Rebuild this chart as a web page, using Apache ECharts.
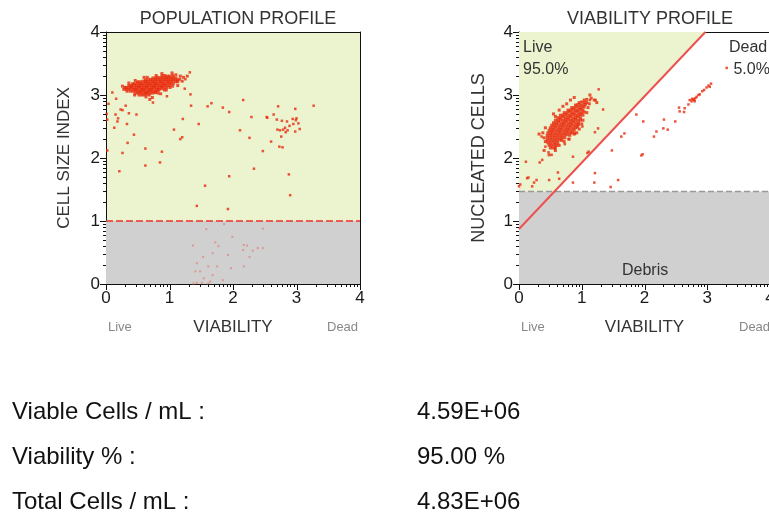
<!DOCTYPE html>
<html>
<head>
<meta charset="utf-8">
<script src="https://cdn.jsdelivr.net/npm/echarts@6/dist/echarts.min.js"></script>
<style>
html,body{margin:0;padding:0;background:#fff;}
#chart{width:769px;height:512px;}
</style>
</head>
<body>
<div id="chart"></div>
<script>
// ---------- data ----------
const tickLabels = [0, 1, 2, 3, 4];
const minorFrac = [0.301, 0.477, 0.602, 0.699, 0.778, 0.845, 0.903, 0.954];

// POPULATION PROFILE
const popCore = [
[0.88,3.30],[0.92,3.31],[0.96,3.30],[1.00,3.30],[1.05,3.31],
[0.74,3.27],[0.78,3.27],[0.82,3.28],[0.86,3.27],[0.90,3.27],[0.94,3.28],[0.98,3.27],[1.02,3.27],[1.06,3.28],[1.10,3.27],
[0.62,3.24],[0.66,3.24],[0.70,3.25],[0.74,3.24],[0.78,3.24],[0.82,3.25],[0.86,3.24],[0.90,3.24],[0.94,3.25],[0.98,3.24],[1.02,3.24],[1.06,3.25],[1.10,3.24],[1.13,3.24],
[0.50,3.21],[0.54,3.21],[0.58,3.22],[0.62,3.21],[0.66,3.21],[0.70,3.22],[0.74,3.21],[0.78,3.21],[0.82,3.22],[0.86,3.21],[0.90,3.21],[0.94,3.22],[0.98,3.21],[1.02,3.21],[1.06,3.22],[1.10,3.21],[1.13,3.21],
[0.42,3.18],[0.46,3.18],[0.50,3.19],[0.54,3.18],[0.58,3.18],[0.62,3.19],[0.66,3.18],[0.70,3.18],[0.74,3.19],[0.78,3.18],[0.82,3.18],[0.86,3.19],[0.90,3.18],[0.94,3.18],[0.98,3.19],[1.02,3.18],[1.06,3.18],
[0.36,3.15],[0.40,3.15],[0.44,3.16],[0.48,3.15],[0.52,3.15],[0.56,3.16],[0.60,3.15],[0.64,3.15],[0.68,3.16],[0.72,3.15],[0.76,3.15],[0.80,3.16],[0.84,3.15],[0.88,3.15],[0.92,3.16],[0.96,3.15],[1.00,3.15],
[0.32,3.12],[0.36,3.12],[0.40,3.13],[0.44,3.12],[0.48,3.12],[0.52,3.13],[0.56,3.12],[0.60,3.12],[0.64,3.13],[0.68,3.12],[0.72,3.12],[0.76,3.13],[0.80,3.12],[0.84,3.12],[0.88,3.13],[0.92,3.12],[0.96,3.12],
[0.32,3.09],[0.36,3.09],[0.40,3.10],[0.44,3.09],[0.48,3.09],[0.52,3.10],[0.56,3.09],[0.60,3.09],[0.64,3.10],[0.68,3.09],[0.72,3.09],[0.76,3.10],[0.80,3.09],[0.84,3.09],[0.88,3.10],
[0.38,3.06],[0.42,3.06],[0.46,3.07],[0.50,3.06],[0.54,3.06],[0.58,3.07],[0.62,3.06],[0.66,3.06],[0.70,3.07],[0.74,3.06],[0.78,3.06],[0.82,3.07],
[0.46,3.03],[0.50,3.03],[0.54,3.04],[0.58,3.03],[0.62,3.03],[0.66,3.04],[0.70,3.03],[0.74,3.03],[0.78,3.04],
[0.56,3.00],[0.60,3.00],[0.64,3.01],[0.68,3.00],
[0.30,3.12],[0.33,3.06],[0.45,3.00],[0.63,2.97],[0.69,2.93],[0.73,2.96],[0.86,3.02],[0.95,3.08],[1.16,3.25],[1.20,3.22],
[1.17,3.30],[1.13,3.15],[1.01,3.12],[0.60,3.28],[0.46,3.23],[0.79,3.31],[1.28,3.30],[1.22,3.28],[0.52,3.00],[0.82,3.03],
[0.92,3.08],[1.05,3.14],[0.36,3.19],[0.65,3.28],[0.88,3.34],[1.10,3.32],[1.04,3.35],[0.28,3.09],[0.26,3.14]
];
const popScatter = [
[0.10,3.04],[0.04,2.86],[0.16,2.94],[0.23,2.77],[0.26,2.76],[0.15,2.69],[0.19,2.63],[0.18,2.58],[0.13,2.48],[0.02,2.61],[0.01,2.70],
[0.31,2.83],[0.36,2.71],[0.48,2.69],[0.33,2.54],[0.44,2.37],[0.34,2.24],[0.26,2.08],[0.02,2.12],[0.21,1.79],[0.62,2.15],[0.62,1.88],
[0.88,2.10],[0.85,1.93],[0.74,2.88],[0.96,2.98],[1.07,2.45],[1.17,2.30],[1.20,2.33],[1.21,2.62],[1.34,2.83],[1.33,3.01],[1.32,3.36],
[1.25,3.25],[1.24,3.10],[1.46,2.54],[1.60,2.82],[1.66,2.87],[1.84,2.80],[1.94,2.73],[2.11,2.44],[2.16,2.92],[2.29,2.65],[2.26,2.32],
[2.33,1.83],[1.94,1.71],[1.56,1.56],[1.43,1.24],[1.92,1.19],[2.47,2.11],[2.60,2.26],[2.53,2.65],[2.54,2.64],[2.64,2.69],[2.71,2.82],
[3.27,2.83],[2.98,2.78],[2.69,2.61],[2.77,2.59],[2.85,2.58],[2.94,2.62],[3.00,2.63],[2.99,2.60],[2.89,2.51],[2.95,2.54],[3.03,2.55],
[2.82,2.48],[2.79,2.45],[2.86,2.44],[2.83,2.41],[2.74,2.44],[2.98,2.42],[3.05,2.46],[2.70,2.45],[2.76,2.34],[2.73,2.18],[2.78,2.17],
[2.88,1.74],[2.90,1.41]
];
const popDebris = [
[1.37,0.61],[1.43,0.33],[1.53,0.43],[1.58,0.87],[1.61,0.28],[1.48,0.20],[1.41,0.20],[1.54,0.09],[1.38,0.01],[1.43,0.02],[1.64,0.04],
[1.68,0.49],[1.72,0.66],[1.77,0.60],[1.75,0.28],[1.86,0.95],[1.84,0.06],[1.92,0.46],[1.97,0.25],[1.99,0.75],[2.17,0.62],[2.16,0.54],
[2.22,0.61],[2.17,0.28],[2.26,0.43],[2.31,0.53],[2.39,0.57],[2.47,0.57],[2.47,0.88],[1.68,0.14],[1.61,0.01],[1.51,0.02]
];
const popCutoff = [[0, 1], [4, 1]];

// VIABILITY PROFILE
const viaCore = [
[1.04,2.92],[1.08,2.93],
[0.96,2.88],[1.00,2.89],[1.04,2.88],[1.08,2.88],
[0.90,2.84],[0.94,2.85],[0.98,2.84],[1.02,2.84],[1.06,2.85],
[0.84,2.80],[0.88,2.80],[0.92,2.81],[0.96,2.80],[1.00,2.80],[1.04,2.81],
[0.78,2.76],[0.82,2.76],[0.86,2.77],[0.90,2.76],[0.94,2.76],[0.98,2.77],[1.02,2.76],
[0.72,2.72],[0.76,2.72],[0.80,2.73],[0.84,2.72],[0.88,2.72],[0.92,2.73],[0.96,2.72],[1.00,2.72],[1.04,2.73],
[0.66,2.68],[0.70,2.68],[0.74,2.69],[0.78,2.68],[0.82,2.68],[0.86,2.69],[0.90,2.68],[0.94,2.68],[0.98,2.69],[1.02,2.68],
[0.62,2.64],[0.66,2.64],[0.70,2.65],[0.74,2.64],[0.78,2.64],[0.82,2.65],[0.86,2.64],[0.90,2.64],[0.94,2.65],[0.98,2.64],
[0.58,2.60],[0.62,2.60],[0.66,2.61],[0.70,2.60],[0.74,2.60],[0.78,2.61],[0.82,2.60],[0.86,2.60],[0.90,2.61],[0.94,2.60],[0.98,2.60],
[0.55,2.56],[0.59,2.56],[0.63,2.57],[0.67,2.56],[0.71,2.56],[0.75,2.57],[0.79,2.56],[0.83,2.56],[0.87,2.57],[0.91,2.56],[0.95,2.56],
[0.52,2.52],[0.56,2.52],[0.60,2.53],[0.64,2.52],[0.68,2.52],[0.72,2.53],[0.76,2.52],[0.80,2.52],[0.84,2.53],[0.88,2.52],[0.92,2.52],[0.95,2.53],
[0.50,2.48],[0.54,2.48],[0.58,2.49],[0.62,2.48],[0.66,2.48],[0.70,2.49],[0.74,2.48],[0.78,2.48],[0.82,2.49],[0.86,2.48],[0.90,2.48],[0.93,2.49],
[0.48,2.44],[0.52,2.44],[0.56,2.45],[0.60,2.44],[0.64,2.44],[0.68,2.45],[0.72,2.44],[0.76,2.44],[0.80,2.45],[0.84,2.44],[0.88,2.44],
[0.46,2.40],[0.50,2.40],[0.54,2.41],[0.58,2.40],[0.62,2.40],[0.66,2.41],[0.70,2.40],[0.74,2.40],[0.78,2.41],[0.82,2.40],[0.85,2.40],
[0.45,2.36],[0.49,2.36],[0.53,2.37],[0.57,2.36],[0.61,2.36],[0.65,2.37],[0.69,2.36],[0.73,2.36],[0.77,2.37],[0.81,2.36],
[0.45,2.32],[0.49,2.32],[0.53,2.33],[0.57,2.32],[0.61,2.32],[0.65,2.33],[0.69,2.32],[0.73,2.32],
[0.45,2.28],[0.49,2.28],[0.53,2.29],[0.57,2.28],[0.61,2.28],[0.65,2.29],[0.68,2.28],
[0.46,2.24],[0.50,2.24],[0.54,2.25],[0.58,2.24],[0.62,2.24],
[0.48,2.20],[0.52,2.20],[0.56,2.21],[0.60,2.20],
[0.50,2.16],[0.54,2.16],[0.58,2.17],
[0.40,2.32],[0.42,2.26],[0.38,2.40],[0.42,2.48],[0.58,2.12],[0.64,2.20],[0.72,2.26],[0.80,2.30],[0.88,2.38],[0.96,2.46],[1.02,2.60],
[1.08,2.72],[1.10,2.80],[1.12,2.86],[1.15,2.95],[1.20,2.92],[0.64,2.76],[0.70,2.82],[0.82,2.92],[0.88,2.96],[1.13,3.00],[0.55,2.70],
[0.58,2.66],[1.24,2.88],[0.32,2.38],[0.40,2.12],[0.48,2.05],[0.76,2.86],[1.00,2.54],[0.92,2.40]
];
const viaLive = [
[0.11,1.94],[0.00,1.55],[0.02,1.58],[0.13,1.68],[0.15,1.69],[0.24,1.61],[0.28,1.65],[0.21,1.55],[0.33,1.93],[0.37,1.97],[0.47,2.09],
[0.52,2.05],[0.62,1.77],[0.64,1.67],[0.48,1.65],[0.36,2.34],[0.42,2.18],[0.57,2.15],[0.73,2.22],[0.79,2.30],[0.89,2.39],[1.01,2.50],
[1.21,2.41],[1.26,2.47],[1.34,2.77],[1.22,2.92],[1.27,3.09],[1.13,2.92],[1.09,2.08],[1.11,2.10],[0.86,2.02]
];
const viaDead = [
[0.86,1.61],[1.20,1.61],[1.21,1.76],[1.46,1.54],[1.58,1.65],[1.48,2.12],[1.63,2.34],[1.68,2.39],[1.87,2.69],[1.98,2.58],[1.95,2.04],
[1.97,2.06],[2.15,2.34],[2.19,2.42],[2.30,2.47],[2.31,2.61],[2.37,2.45],[2.49,2.58],[2.55,2.80],[2.56,2.74],[2.63,2.73],[2.64,2.79],
[2.70,2.85],[2.72,2.92],[2.75,2.90],[2.76,2.94],[2.79,2.92],[2.81,2.95],[2.83,2.97],[2.86,3.00],[2.88,3.01],[2.92,3.06],[2.95,3.08],
[2.99,3.12],[3.02,3.15],[3.06,3.18],[3.04,3.13],[2.78,2.93],[2.80,2.90],[3.31,3.43]
];
const liveGate = [[0, 1.47], [0, 4], [2.97, 4], [0.565, 1.47]];
const viabilityLine = [[0, 0.874], [2.97, 4]];
const debrisCutoff = [[0, 1.47], [4, 1.47]];

const statLabels = ['Viable Cells / mL :', 'Viability % :', 'Total Cells / mL :'];
const statValues = ['4.59E+06', '95.00 %', '4.83E+06'];

// ---------- chart ----------
const FONT = 'Arial, "Liberation Sans", sans-serif';
const RED = '#e8290b';
const minorTicks = [];
for (let d = 0; d < 4; d++) minorFrac.forEach(f => minorTicks.push(+(d + f).toFixed(3)));

const chart = echarts.init(document.getElementById('chart'), null, {renderer: 'canvas'});

function mainX(gi) {
  return {gridIndex: gi, type: 'value', min: 0, max: 4, interval: 1,
    name: 'VIABILITY', nameLocation: 'middle', nameGap: 35,
    nameTextStyle: {fontFamily: FONT, fontSize: 17, color: '#333'},
    axisLine: {show: true, onZero: false, lineStyle: {color: '#111', width: 1}},
    axisTick: {show: false},
    axisLabel: {fontFamily: FONT, fontSize: 17, color: '#1a1a1a', margin: 6},
    splitLine: {show: false}};
}
function mainY(gi, name, size, gap) {
  return {gridIndex: gi, type: 'value', min: 0, max: 4, interval: 1,
    name: name, nameLocation: 'middle', nameGap: gap, nameRotate: 90,
    nameTextStyle: {fontFamily: FONT, fontSize: size, color: '#333'},
    axisLine: {show: true, onZero: false, lineStyle: {color: '#111', width: 1}},
    axisTick: {show: false},
    axisLabel: {fontFamily: FONT, fontSize: 17, color: '#1a1a1a', margin: 6},
    splitLine: {show: false}};
}
function frameX(gi) {
  return {gridIndex: gi, type: 'value', min: 0, max: 4, position: 'top',
    axisLine: {show: true, onZero: false, lineStyle: {color: '#111'}}, axisTick: {show: false},
    axisLabel: {show: false}, splitLine: {show: false}};
}
function frameY(gi) {
  return {gridIndex: gi, type: 'value', min: 0, max: 4, position: 'right',
    axisLine: {show: true, onZero: false, lineStyle: {color: '#111'}}, axisTick: {show: false},
    axisLabel: {show: false}, splitLine: {show: false}};
}

function polygonSeries(xi, yi, pts, color) {
  return {type: 'custom', xAxisIndex: xi, yAxisIndex: yi, z: 1, silent: true,
    data: [0],
    renderItem: function (params, api) {
      return {type: 'polygon', shape: {points: pts.map(p => api.coord(p))},
              style: {fill: color}};
    }};
}
// tick marks drawn through the axis scale (api.coord)
function tickSeries(xi, yi, values, len, dir) {
  const data = values.map(v => dir === 'x' ? [v, 0] : [0, v]);
  return {type: 'custom', xAxisIndex: xi, yAxisIndex: yi, z: 10, silent: true, clip: false,
    data: data,
    renderItem: function (params, api) {
      const p = api.coord([api.value(0), api.value(1)]);
      let shape;
      if (dir === 'x') {
        const x = Math.round(p[0]) + 0.5;
        shape = {x1: x, y1: p[1], x2: x, y2: p[1] + len};
      } else {
        const y = Math.round(p[1]) + 0.5;
        shape = {x1: p[0] - len, y1: y, x2: p[0], y2: y};
      }
      return {type: 'line', shape: shape, style: {stroke: '#111', lineWidth: 1}};
    }};
}

const option = {
  animation: false,
  backgroundColor: '#fff',
  title: [
    {text: 'POPULATION PROFILE', left: 233, top: 5, textAlign: 'center',
     textStyle: {fontFamily: FONT, fontSize: 18, fontWeight: 'normal', color: '#333'}},
    {text: 'VIABILITY PROFILE', left: 645, top: 5, textAlign: 'center',
     textStyle: {fontFamily: FONT, fontSize: 18, fontWeight: 'normal', color: '#333'}}
  ],
  grid: [
    {left: 106, top: 32, width: 254, height: 252, show: true, backgroundColor: '#ebf3cf', borderWidth: 0, outerBoundsMode: 'none', containLabel: false},
    {left: 519, top: 32, width: 251, height: 252, show: true, backgroundColor: '#ffffff', borderWidth: 0, outerBoundsMode: 'none', containLabel: false}
  ],
  xAxis: [mainX(0), frameX(0), mainX(1), frameX(1)],
  yAxis: [mainY(0, 'CELL SIZE INDEX', 17, 33), frameY(0), mainY(1, 'NUCLEATED CELLS', 18, 31), frameY(1)],
  series: [
    polygonSeries(0, 0, [[0, 0], [4, 0], [4, 1], [0, 1]], '#d0d0d0'),
    {type: 'line', xAxisIndex: 0, yAxisIndex: 0, z: 3, data: popCutoff, symbol: 'none', silent: true,
     lineStyle: {color: '#e8302a', width: 1.5, type: [7, 3]}},
    {type: 'scatter', xAxisIndex: 0, yAxisIndex: 0, z: 4, data: popDebris, symbol: 'rect', symbolSize: 2,
     itemStyle: {color: '#e08a80'}, silent: true},
    {type: 'scatter', xAxisIndex: 0, yAxisIndex: 0, z: 4, data: popScatter, symbol: 'rect', symbolSize: 2.5,
     itemStyle: {color: RED}, silent: true},
    {type: 'scatter', xAxisIndex: 0, yAxisIndex: 0, z: 4, data: popCore, symbol: 'rect', symbolSize: 3,
     itemStyle: {color: RED}, silent: true},
    tickSeries(0, 0, tickLabels, 6, 'x'), tickSeries(0, 0, minorTicks, 3, 'x'),
    tickSeries(0, 0, tickLabels, 6, 'y'), tickSeries(0, 0, minorTicks, 3, 'y'),

    polygonSeries(2, 2, liveGate, '#ebf3cf'),
    polygonSeries(2, 2, [[0, 0], [4, 0], [4, 1.47], [0, 1.47]], '#d0d0d0'),
    {type: 'line', xAxisIndex: 2, yAxisIndex: 2, z: 3, data: debrisCutoff, symbol: 'none', silent: true,
     lineStyle: {color: '#999', width: 1.5, type: [6, 3]}},
    {type: 'line', xAxisIndex: 2, yAxisIndex: 2, z: 3, data: viabilityLine, symbol: 'none', silent: true,
     lineStyle: {color: '#ee5050', width: 2}},
    {type: 'scatter', xAxisIndex: 2, yAxisIndex: 2, z: 4, data: viaLive, symbol: 'rect', symbolSize: 2.5,
     itemStyle: {color: RED}, silent: true},
    {type: 'scatter', xAxisIndex: 2, yAxisIndex: 2, z: 4, data: viaDead, symbol: 'rect', symbolSize: 2.5,
     itemStyle: {color: RED}, silent: true},
    {type: 'scatter', xAxisIndex: 2, yAxisIndex: 2, z: 4, data: viaCore, symbol: 'rect', symbolSize: 3,
     itemStyle: {color: RED}, silent: true},
    tickSeries(2, 2, tickLabels, 6, 'x'), tickSeries(2, 2, minorTicks, 3, 'x'),
    tickSeries(2, 2, tickLabels, 6, 'y'), tickSeries(2, 2, minorTicks, 3, 'y')
  ],
  graphic: [
    {type: 'text', left: 108, top: 321, style: {text: 'Live', font: '13px ' + FONT, fill: '#888'}},
    {type: 'text', left: 327, top: 321, style: {text: 'Dead', font: '13px ' + FONT, fill: '#888'}},
    {type: 'text', left: 521, top: 321, style: {text: 'Live', font: '13px ' + FONT, fill: '#888'}},
    {type: 'text', left: 739, top: 321, style: {text: 'Dead', font: '13px ' + FONT, fill: '#888'}},
    {type: 'text', left: 523, top: 37, z: 10, style: {text: 'Live\n95.0%', font: '16px ' + FONT, fill: '#333', lineHeight: 22}},
    {type: 'text', left: 729, top: 37, z: 10, style: {text: 'Dead\n 5.0%', font: '16px ' + FONT, fill: '#333', lineHeight: 22}},
    {type: 'text', left: 622, top: 263, z: 10, style: {text: 'Debris', font: '16px ' + FONT, fill: '#333'}}
  ].concat(statLabels.map((t, i) => ({type: 'text', left: 12, top: 400 + i * 45,
      style: {text: t, font: '24px ' + FONT, fill: '#111'}})))
   .concat(statValues.map((t, i) => ({type: 'text', left: 417, top: 400 + i * 45,
      style: {text: t, font: '24px ' + FONT, fill: '#111'}})))
};
chart.setOption(option);
</script>
</body>
</html>
